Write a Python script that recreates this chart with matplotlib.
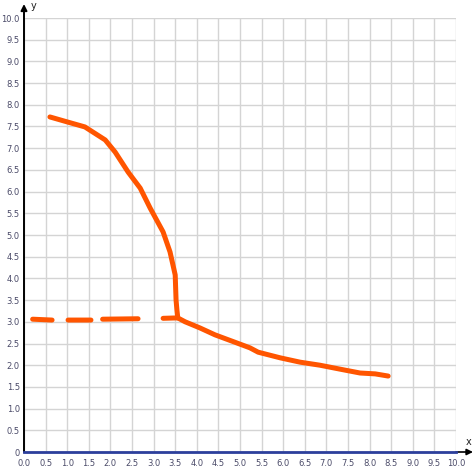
import numpy as np
import matplotlib
matplotlib.use("Agg")
import matplotlib.pyplot as plt

# Data
curve_x = [0.60, 1.02, 1.41, 1.88, 2.11, 2.41, 2.69, 2.92, 3.22, 3.38, 3.50, 3.52, 3.54, 3.56,
           3.73, 4.07, 4.42, 4.88, 5.23, 5.42, 5.93, 6.39, 6.85, 7.31, 7.78, 8.13, 8.43]
curve_y = [7.72, 7.60, 7.49, 7.19, 6.91, 6.45, 6.08, 5.62, 5.07, 4.61, 4.08, 3.50, 3.27, 3.09,
           3.00, 2.86, 2.70, 2.53, 2.40, 2.30, 2.17, 2.07, 2.00, 1.91, 1.82, 1.80, 1.75]
dash_x = [0.20, 0.65, np.nan, 1.02, 1.55, np.nan, 1.82, 2.64, np.nan, 3.22, 3.56]
dash_y = [3.06, 3.04, np.nan, 3.04, 3.04, np.nan, 3.06, 3.07, np.nan, 3.08, 3.09]

ticks = np.arange(0, 10.01, 0.5)
xtick_labels = ["%.1f" % t for t in ticks]
ytick_labels = ["0"] + ["%.1f" % t for t in ticks[1:]]

W, H = 476, 473
fig = plt.figure(figsize=(W / 100, H / 100), dpi=100)
ax = fig.add_axes([24 / W, 1 - 452 / H, 432 / W, 434 / H])
ax.set_xlim(0, 10)
ax.set_ylim(0, 10)
ax.set_xticks(ticks)
ax.set_yticks(ticks)
ax.set_xticklabels(xtick_labels)
ax.set_yticklabels(ytick_labels)
ax.tick_params(length=0, labelsize=6, labelcolor="#4a4a68")
ax.tick_params(axis="y", pad=3)
ax.tick_params(axis="x", pad=5)
ax.grid(True, color="#d4d4d4", linewidth=1.0)
ax.set_axisbelow(True)
for s in ax.spines.values():
    s.set_visible(False)

ax.plot(curve_x, curve_y, color="#ff5500", linewidth=3.6, solid_capstyle="round",
        solid_joinstyle="round", zorder=3)
ax.plot(dash_x, dash_y, color="#ff5500", linewidth=3.6, solid_capstyle="round", zorder=3)

# axes lines
ax.plot([0, 10], [0, 0], color="#2c3f9c", linewidth=2, clip_on=False, zorder=4)
ax.annotate("", xy=(473 / W, 1 - 452 / H), xycoords="figure fraction",
            xytext=(456 / W, 1 - 452 / H), textcoords="figure fraction",
            arrowprops=dict(arrowstyle="-|>", color="black", lw=1.2,
                            mutation_scale=9, shrinkA=0, shrinkB=0))
ax.annotate("", xy=(24 / W, 1 - 4 / H), xycoords="figure fraction",
            xytext=(24 / W, 1 - 452 / H), textcoords="figure fraction",
            arrowprops=dict(arrowstyle="-|>", color="black", lw=1.4,
                            mutation_scale=9, shrinkA=0, shrinkB=0))
fig.text(469 / W, 1 - 442 / H, "x", fontsize=7, color="#222222", ha="center", va="center")
fig.text(34 / W, 1 - 6 / H, "y", fontsize=7, color="#222222", ha="center", va="center")

fig.savefig("out.png", dpi=100)
